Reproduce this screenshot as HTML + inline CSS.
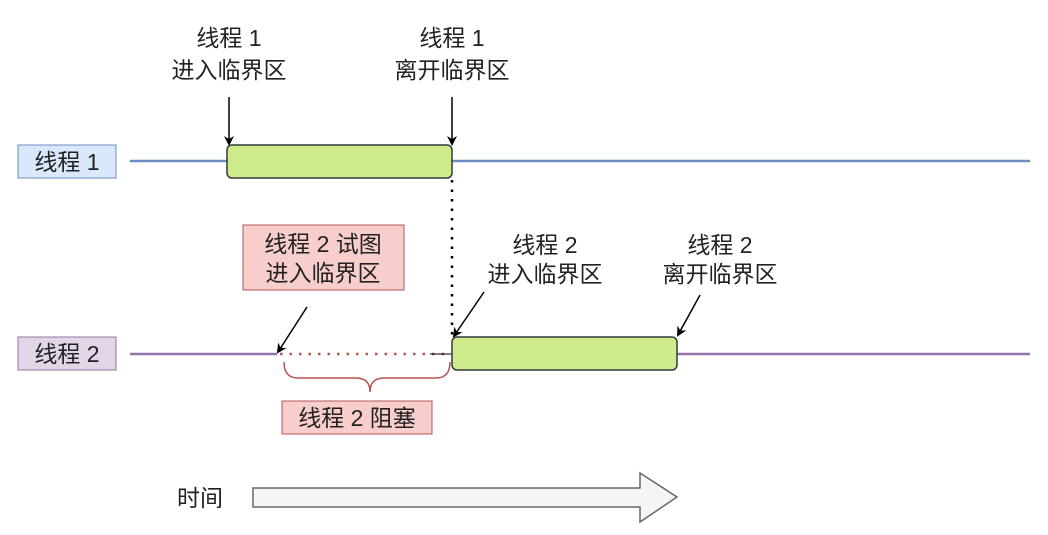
<!DOCTYPE html>
<html><head><meta charset="utf-8"><style>
body{margin:0;background:#fff;}
svg text{font-family:"Liberation Sans","Noto Sans CJK SC",sans-serif;font-size:23px;fill:#222;}
</style></head><body>
<svg width="1048" height="530" xmlns="http://www.w3.org/2000/svg">
<defs><marker id="a" markerWidth="10" markerHeight="10" refX="8" refY="5" orient="auto" markerUnits="userSpaceOnUse"><path d="M0,0 L10,5 L0,10 L3,5 Z" fill="#000"/></marker></defs>
<rect width="1048" height="530" fill="#fff"/>
<rect x="18" y="145" width="98" height="33" fill="#dae8fc" stroke="#6c8ebf"/>
<text x="67" y="170" text-anchor="middle">线程 1</text>
<line x1="130" y1="161" x2="1030" y2="161" stroke="#6c8ebf" stroke-width="2.5"/>
<rect x="227" y="145" width="225" height="33" rx="5" fill="#cdeb8b" stroke="#36393d" stroke-width="1.5"/>
<text x="229" y="46" text-anchor="middle">线程 1</text>
<text x="229" y="78" text-anchor="middle">进入临界区</text>
<text x="452" y="46" text-anchor="middle">线程 1</text>
<text x="452" y="78" text-anchor="middle">离开临界区</text>
<line x1="229" y1="97" x2="229" y2="144" stroke="#000" stroke-width="1.5" marker-end="url(#a)"/>
<line x1="452" y1="97" x2="452" y2="144" stroke="#000" stroke-width="1.5" marker-end="url(#a)"/>
<line x1="452" y1="180" x2="452" y2="335" stroke="#000" stroke-width="2.5" stroke-dasharray="2.5,7"/>
<rect x="18" y="337" width="98" height="33" fill="#e1d5e7" stroke="#9673a6"/>
<text x="67" y="362" text-anchor="middle">线程 2</text>
<line x1="130" y1="354" x2="277" y2="354" stroke="#9673a6" stroke-width="2.5"/>
<line x1="677" y1="354" x2="1030" y2="354" stroke="#9673a6" stroke-width="2.5"/>
<line x1="280" y1="354" x2="450" y2="354" stroke="#b85450" stroke-width="2.5" stroke-dasharray="2.5,7"/>
<line x1="430" y1="354" x2="452" y2="354" stroke="#000" stroke-width="1"/>
<rect x="452" y="337" width="225" height="33" rx="5" fill="#cdeb8b" stroke="#36393d" stroke-width="1.5"/>
<rect x="243" y="225" width="161" height="65" fill="#f8cecc" stroke="#b85450"/>
<text x="323" y="252" text-anchor="middle">线程 2 试图</text>
<text x="323" y="281" text-anchor="middle">进入临界区</text>
<line x1="307" y1="307" x2="278" y2="352" stroke="#000" stroke-width="1.5" marker-end="url(#a)"/>
<text x="545" y="253" text-anchor="middle">线程 2</text>
<text x="545" y="282" text-anchor="middle">进入临界区</text>
<line x1="484" y1="292" x2="454" y2="336" stroke="#000" stroke-width="1.5" marker-end="url(#a)"/>
<text x="720" y="253" text-anchor="middle">线程 2</text>
<text x="720" y="282" text-anchor="middle">离开临界区</text>
<line x1="700" y1="295" x2="678" y2="335" stroke="#000" stroke-width="1.5" marker-end="url(#a)"/>
<path d="M284,362 Q284,378 298,378 L356,378 Q370,378 370,392 Q370,378 384,378 L436,378 Q450,378 450,362" fill="none" stroke="#b85450" stroke-width="1.5"/>
<rect x="282" y="401" width="150" height="33" fill="#f8cecc" stroke="#b85450"/>
<text x="357" y="426" text-anchor="middle">线程 2 阻塞</text>
<text x="200" y="506" text-anchor="middle">时间</text>
<path d="M253,488 L640,488 L640,473 L677,497 L640,522 L640,507 L253,507 Z" fill="#f5f5f5" stroke="#666" stroke-width="1.5"/>
</svg>
</body></html>
